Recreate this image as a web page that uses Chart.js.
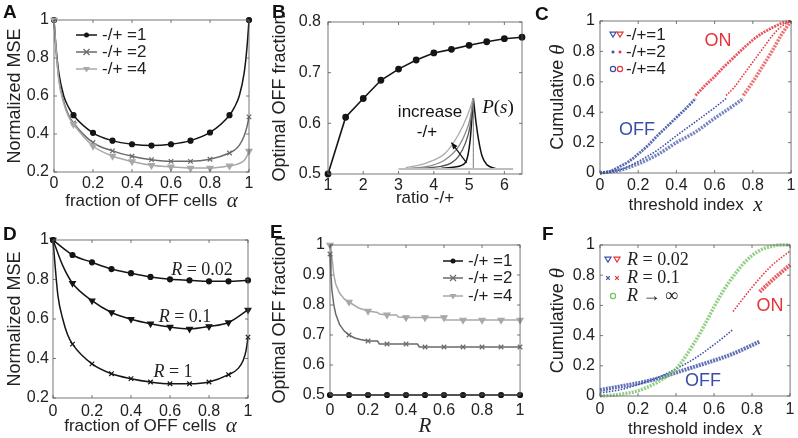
<!DOCTYPE html>
<html>
<head>
<meta charset="utf-8">
<script src="https://cdn.jsdelivr.net/npm/chart.js@4.4.1/dist/chart.umd.min.js"></script>
<style>
html, body { margin: 0; padding: 0; background: #fff; }
#fig { position: relative; width: 798px; height: 438px; overflow: hidden; }
#fig canvas { position: absolute; }
</style>
</head>
<body>
<div id="fig">
<canvas id="pA" width="265" height="219" style="left:0;top:0"></canvas>
<canvas id="pB" width="265" height="219" style="left:265px;top:0"></canvas>
<canvas id="pC" width="268" height="219" style="left:530px;top:0"></canvas>
<canvas id="pD" width="265" height="219" style="left:0;top:219px"></canvas>
<canvas id="pE" width="265" height="219" style="left:265px;top:219px"></canvas>
<canvas id="pF" width="268" height="219" style="left:530px;top:219px"></canvas>
</div>
<script>
// ---- A: normalized MSE vs fraction of OFF cells
const aX = [0, 0.01, 0.025, 0.05, 0.075, 0.1, 0.2, 0.3, 0.4, 0.5, 0.6, 0.7, 0.8, 0.9, 0.925, 0.95, 0.975, 0.99, 1];
const aRatio1 = [1, 0.86, 0.72, 0.6, 0.54, 0.499, 0.406, 0.365, 0.346, 0.339, 0.346, 0.365, 0.408, 0.499, 0.54, 0.6, 0.72, 0.86, 1];
const aRatio2 = [1, 0.85, 0.69, 0.57, 0.5, 0.458, 0.355, 0.311, 0.283, 0.265, 0.256, 0.256, 0.267, 0.3, 0.315, 0.34, 0.39, 0.44, 0.49];
const aRatio4 = [1, 0.85, 0.68, 0.56, 0.49, 0.451, 0.337, 0.284, 0.255, 0.235, 0.227, 0.221, 0.221, 0.232, 0.237, 0.245, 0.26, 0.285, 0.31];

// ---- B: optimal OFF fraction vs ratio, plus the P(s) inset
const bRatio = [1, 1.5, 2, 2.5, 3, 3.5, 4, 4.5, 5, 5.5, 6, 6.5];
const bOptimal = [0.5, 0.612, 0.649, 0.685, 0.707, 0.725, 0.739, 0.746, 0.754, 0.761, 0.767, 0.77];
const psBaseX = [3.0, 6.25];
const psBaseY = [0.51, 0.51];
const psPeakX = [5.12, 5.12];
const psPeakY = [0.51, 0.65];
const psLightX = [3.2, 3.8, 4.32, 4.7, 4.95, 5.12];
const psLightY = [0.512, 0.522, 0.541, 0.578, 0.615, 0.65];
const psMidX = [3.3, 3.9, 4.32, 4.7, 4.89, 5.03, 5.12];
const psMidY = [0.511, 0.516, 0.528, 0.554, 0.58, 0.61, 0.65];
const psDarkX = [3.4, 4.2, 4.5, 4.7, 4.89, 5.03, 5.12];
const psDarkY = [0.511, 0.515, 0.522, 0.535, 0.56, 0.595, 0.65];
const psBlackLX = [4.2, 4.6, 4.89, 5.03, 5.12];
const psBlackLY = [0.511, 0.514, 0.522, 0.567, 0.65];
const psBlackRX = [5.12, 5.2, 5.27, 5.37, 5.51, 5.75];
const psBlackRY = [0.65, 0.6, 0.567, 0.535, 0.518, 0.511];
const arrowFrom = [4.93, 0.522];
const arrowTo = [4.5, 0.562];

// ---- C: cumulative theta, OFF part then ON part
const c1OffX = [0, 0.05, 0.1, 0.15, 0.2, 0.25, 0.3, 0.35, 0.4, 0.45, 0.5];
const c1OffY = [0, 0.01, 0.04, 0.075, 0.125, 0.18, 0.245, 0.305, 0.365, 0.425, 0.49];
const c1OnX = [0.5, 0.55, 0.6, 0.65, 0.7, 0.75, 0.8, 0.85, 0.9, 0.95, 1];
const c1OnY = [0.51, 0.575, 0.635, 0.7, 0.76, 0.82, 0.875, 0.92, 0.955, 0.985, 1];
const c2OffX = [0, 0.1, 0.2, 0.3, 0.4, 0.5, 0.6, 0.66];
const c2OffY = [0, 0.02, 0.076, 0.15, 0.245, 0.337, 0.43, 0.49];
const c2OnX = [0.66, 0.7, 0.75, 0.8, 0.85, 0.9, 0.95, 1];
const c2OnY = [0.51, 0.56, 0.645, 0.73, 0.815, 0.9, 0.965, 1];
const c3OffX = [0, 0.1, 0.2, 0.3, 0.4, 0.5, 0.6, 0.7, 0.75];
const c3OffY = [0, 0.017, 0.06, 0.12, 0.2, 0.27, 0.36, 0.445, 0.49];
const c3OnX = [0.75, 0.8, 0.85, 0.9, 0.95, 1];
const c3OnY = [0.51, 0.6, 0.7, 0.8, 0.91, 1];

// ---- D: normalized MSE for several R
const dX = [0, 0.05, 0.1, 0.2, 0.3, 0.4, 0.5, 0.6, 0.7, 0.8, 0.9, 1];
const dR002 = [1, 0.96, 0.924, 0.887, 0.853, 0.832, 0.813, 0.801, 0.796, 0.791, 0.791, 0.796];
const dR01 = [1, 0.87, 0.781, 0.693, 0.633, 0.599, 0.576, 0.559, 0.55, 0.562, 0.582, 0.646];
const dR1X = [0, 0.01, 0.025, 0.05, 0.075, 0.1, 0.2, 0.3, 0.4, 0.5, 0.6, 0.7, 0.8, 0.9, 0.95, 0.975, 0.99, 1];
const dR1 = [1, 0.88, 0.72, 0.6, 0.52, 0.473, 0.373, 0.323, 0.298, 0.281, 0.272, 0.272, 0.281, 0.318, 0.35, 0.39, 0.44, 0.508];

// ---- E: optimal OFF fraction vs R
const eX1 = [0, 0.1, 0.2, 0.3, 0.4, 0.5, 0.6, 0.7, 0.8, 0.9, 1];
const eRatio1 = [0.5, 0.5, 0.5, 0.5, 0.5, 0.5, 0.5, 0.5, 0.5, 0.5, 0.5];
const eX2 = [0, 0.005, 0.01, 0.02, 0.03, 0.05, 0.075, 0.1, 0.13, 0.16, 0.2, 0.25, 0.26, 0.3, 0.4, 0.46, 0.47, 0.5, 0.6, 0.7, 0.8, 0.9, 1];
const eRatio2 = [0.97, 0.9, 0.85, 0.8, 0.77, 0.735, 0.713, 0.7, 0.69, 0.685, 0.68, 0.68, 0.67, 0.67, 0.67, 0.67, 0.66, 0.66, 0.66, 0.66, 0.66, 0.66, 0.66];
const eX4 = [0, 0.005, 0.01, 0.02, 0.03, 0.05, 0.075, 0.1, 0.15, 0.2, 0.25, 0.26, 0.3, 0.35, 0.36, 0.4, 0.5, 0.6, 0.61, 0.7, 0.8, 0.9, 1];
const eRatio4 = [1, 0.99, 0.96, 0.9, 0.87, 0.84, 0.82, 0.81, 0.79, 0.78, 0.775, 0.77, 0.767, 0.767, 0.76, 0.758, 0.758, 0.758, 0.75, 0.75, 0.75, 0.75, 0.75];

// ---- F: cumulative theta for several R
const f1OffX = [0, 0.1, 0.2, 0.3, 0.4, 0.5, 0.6, 0.7, 0.84];
const f1OffY = [0.04, 0.062, 0.085, 0.115, 0.155, 0.195, 0.235, 0.28, 0.36];
const f1OnX = [0.84, 0.9, 0.95, 1];
const f1OnY = [0.69, 0.76, 0.815, 0.868];
const f2OffX = [0, 0.1, 0.2, 0.3, 0.4, 0.5, 0.6, 0.7];
const f2OffY = [0.02, 0.04, 0.075, 0.12, 0.18, 0.25, 0.34, 0.44];
const f2OnX = [0.7, 0.8, 0.9, 1];
const f2OnY = [0.56, 0.72, 0.86, 0.96];
const f3X = [0, 0.1, 0.2, 0.3, 0.4, 0.5, 0.55, 0.6, 0.65, 0.7, 0.75, 0.8, 0.85, 0.9, 0.95, 1];
const f3Y = [0, 0.01, 0.035, 0.09, 0.18, 0.36, 0.47, 0.59, 0.7, 0.79, 0.87, 0.93, 0.97, 0.99, 1, 1];

const SANS = '"Liberation Sans", Arial, sans-serif';
const SERIF = '"Liberation Serif", "DejaVu Serif", serif';
const T17 = '17px ' + SANS;
const T18 = '18px ' + SANS;
const L17 = '17px ' + SANS;
const MATH = 'italic 21px ' + SERIF;
const BLACK = '#151515', DGRAY = '#6a6a6a', LGRAY = '#a8a8a8';
const BLUE = '#3a4ea6', RED = '#e3353b', GREEN = '#76c364';

const pts = (xs, ys) => xs.map((x, i) => ({x: x, y: ys[i]}));
const onTenth = x => Math.abs(x * 10 - Math.round(x * 10)) < 1e-6;
const fmt = v => String(Math.round(v * 100) / 100);

function series(xs, ys, color, style, r, extra) {
    return Object.assign({
        data: pts(xs, ys),
        borderColor: color,
        backgroundColor: color,
        borderWidth: 1.5,
        pointStyle: style,
        pointRotation: style === 'triangle' ? 180 : 0,
        pointRadius: ctx => (ctx.raw && onTenth(ctx.raw.x)) ? r : 0,
        pointBorderWidth: 1.2,
        cubicInterpolationMode: 'monotone',
        clip: false
    }, extra || {});
}

// dense marker chains of C and F drawn as textured dashed strokes
function chain(xs, ys, color, width, dash) {
    return {
        data: pts(xs, ys),
        borderColor: color,
        borderWidth: width,
        borderDash: dash,
        pointRadius: 0,
        cubicInterpolationMode: 'monotone',
        clip: false
    };
}

function plain(xs, ys, color, width) {
    return {
        data: pts(xs, ys), borderColor: color, borderWidth: width,
        pointRadius: 0, cubicInterpolationMode: 'monotone', clip: false
    };
}

// text made of several font runs, centred (or left anchored) at x,y
function rich(ctx, parts, x, y, rot, left) {
    ctx.save();
    ctx.translate(x, y);
    if (rot) ctx.rotate(rot);
    let w = 0;
    parts.forEach(p => { ctx.font = p[1]; w += ctx.measureText(p[0]).width; });
    let cx = left ? 0 : -w / 2;
    ctx.textBaseline = 'middle';
    ctx.textAlign = 'left';
    parts.forEach(p => {
        ctx.font = p[1];
        ctx.fillStyle = p[2] || '#222';
        ctx.fillText(p[0], cx, 0);
        cx += ctx.measureText(p[0]).width;
    });
    ctx.restore();
}

function letter(ctx, t, x, y) {
    rich(ctx, [[t, 'bold 19px ' + SANS, '#111']], x, y, 0, true);
}

function mark(ctx, style, x, y, r, color) {
    ctx.save();
    ctx.fillStyle = color;
    ctx.strokeStyle = color;
    ctx.lineWidth = 1.2;
    ctx.beginPath();
    if (style === 'circle') { ctx.arc(x, y, r, 0, 2 * Math.PI); ctx.fill(); }
    else if (style === 'ring') { ctx.arc(x, y, r, 0, 2 * Math.PI); ctx.stroke(); }
    else if (style === 'tri') { ctx.moveTo(x - r, y - r * 0.6); ctx.lineTo(x + r, y - r * 0.6); ctx.lineTo(x, y + r); ctx.closePath(); ctx.fill(); }
    else if (style === 'triO') { ctx.moveTo(x - r, y - r * 0.6); ctx.lineTo(x + r, y - r * 0.6); ctx.lineTo(x, y + r); ctx.closePath(); ctx.stroke(); }
    else if (style === 'dot') { ctx.fillRect(x - 1.3, y - 1.3, 2.6, 2.6); }
    else if (style === 'x') {
        ctx.moveTo(x - r, y - r); ctx.lineTo(x + r, y + r);
        ctx.moveTo(x + r, y - r); ctx.lineTo(x - r, y + r); ctx.stroke();
    }
    ctx.restore();
}

function legendLine(ctx, x0, x1, y, color, style, r, label) {
    ctx.save();
    ctx.strokeStyle = color;
    ctx.lineWidth = 1.5;
    ctx.beginPath(); ctx.moveTo(x0, y); ctx.lineTo(x1, y); ctx.stroke();
    ctx.restore();
    mark(ctx, style, (x0 + x1) / 2, y, r, color);
    rich(ctx, [[label, L17]], x1 + 5, y, 0, true);
}

const boxPlugin = {
    id: 'box',
    afterDatasetsDraw(chart) {
        const {ctx, chartArea: a, scales} = chart;
        ctx.save();
        ctx.strokeStyle = '#555';
        ctx.lineWidth = 0.8;
        ctx.strokeRect(a.left, a.top, a.right - a.left, a.bottom - a.top);
        ctx.beginPath();
        scales.x.ticks.forEach(t => {
            const px = scales.x.getPixelForValue(t.value);
            ctx.moveTo(px, a.bottom); ctx.lineTo(px, a.bottom - 3);
            ctx.moveTo(px, a.top); ctx.lineTo(px, a.top + 3);
        });
        scales.y.ticks.forEach(t => {
            const py = scales.y.getPixelForValue(t.value);
            ctx.moveTo(a.left, py); ctx.lineTo(a.left + 3, py);
            ctx.moveTo(a.right, py); ctx.lineTo(a.right - 3, py);
        });
        ctx.stroke();
        ctx.restore();
    }
};

function panel(id, cfg) {
    const cv = document.getElementById(id);
    const W = cv.width, H = cv.height, a = cfg.area;
    const tickFont = {family: SANS, size: 16};
    const axis = (r, pad, fit) => ({
        type: 'linear', min: r[0], max: r[1],
        afterFit: fit,
        grid: {display: false, drawTicks: false},
        border: {display: false},
        ticks: {stepSize: r[2], includeBounds: false, autoSkip: false, maxRotation: 0,
                padding: pad, color: '#222', font: tickFont, callback: fmt}
    });
    return new Chart(cv, {
        type: 'line',
        data: {datasets: cfg.datasets},
        options: {
            responsive: false,
            animation: false,
            events: [],
            layout: {padding: {left: 0, top: a.top, right: W - a.right, bottom: 0}},
            plugins: {legend: {display: false}, tooltip: {enabled: false}},
            scales: {
                x: axis(cfg.x, cfg.padX, s => { s.height = H - a.bottom; }),
                y: axis(cfg.y, cfg.padY, s => { s.width = a.left; })
            }
        },
        plugins: [boxPlugin, {id: 'deco', afterDraw: c => cfg.deco(c.ctx, c)}]
    });
}

const midX = c => (c.chartArea.left + c.chartArea.right) / 2;
const midY = c => (c.chartArea.top + c.chartArea.bottom) / 2;

panel('pA', {
    area: {left: 54, right: 249, top: 20, bottom: 172},
    x: [0, 1, 0.2], y: [0.2, 1, 0.2], padX: 1.5, padY: 5,
    datasets: [
        series(aX, aRatio4, LGRAY, 'triangle', 3.5),
        series(aX, aRatio2, DGRAY, 'crossRot', 3.2),
        series(aX, aRatio1, BLACK, 'circle', 2.5)
    ],
    deco: (ctx, c) => {
        letter(ctx, 'A', 3, 13);
        rich(ctx, [['fraction of OFF cells  ', T17], ['α', MATH]], midX(c), 201);
        rich(ctx, [['Normalized MSE', T18]], 15, midY(c), -Math.PI / 2);
        legendLine(ctx, 76, 97, 35, BLACK, 'circle', 2.5, '-/+ =1');
        legendLine(ctx, 76, 97, 52, DGRAY, 'x', 3, '-/+ =2');
        legendLine(ctx, 76, 97, 69, LGRAY, 'tri', 3.5, '-/+ =4');
    }
});

panel('pB', {
    area: {left: 63, right: 257, top: 22, bottom: 174},
    x: [1, 6.5, 1], y: [0.5, 0.8, 0.1], padX: 1.5, padY: 7,
    datasets: [
        plain(psBaseX, psBaseY, '#bdbdbd', 2),
        plain(psPeakX, psPeakY, '#777', 1),
        plain(psLightX, psLightY, '#aaa', 1.3),
        plain(psMidX, psMidY, '#8a8a8a', 1.3),
        plain(psDarkX, psDarkY, '#555', 1.3),
        plain(psBlackLX, psBlackLY, '#111', 1.5),
        plain(psBlackRX, psBlackRY, '#111', 1.5),
        {data: pts(bRatio, bOptimal), borderColor: BLACK, backgroundColor: BLACK, borderWidth: 1.6,
         pointRadius: 2.6, pointStyle: 'circle', tension: 0, clip: false}
    ],
    deco: (ctx, c) => {
        letter(ctx, 'B', 7, 13);
        rich(ctx, [['ratio -/+', T17]], midX(c), 198);
        rich(ctx, [['Optimal OFF fraction', T18]], 15, midY(c), -Math.PI / 2);
        const sx = c.scales.x, sy = c.scales.y;
        const x0 = sx.getPixelForValue(arrowFrom[0]), y0 = sy.getPixelForValue(arrowFrom[1]);
        const x1 = sx.getPixelForValue(arrowTo[0]), y1 = sy.getPixelForValue(arrowTo[1]);
        const ang = Math.atan2(y1 - y0, x1 - x0);
        ctx.save();
        ctx.strokeStyle = '#111'; ctx.fillStyle = '#111'; ctx.lineWidth = 1.3;
        ctx.beginPath(); ctx.moveTo(x0, y0); ctx.lineTo(x1, y1); ctx.stroke();
        ctx.beginPath();
        ctx.moveTo(x1, y1);
        ctx.lineTo(x1 - 7 * Math.cos(ang - 0.4), y1 - 7 * Math.sin(ang - 0.4));
        ctx.lineTo(x1 - 7 * Math.cos(ang + 0.4), y1 - 7 * Math.sin(ang + 0.4));
        ctx.closePath(); ctx.fill();
        ctx.restore();
        rich(ctx, [['increase', L17, '#111']], 165, 112);
        rich(ctx, [['-/+', L17, '#111']], 162, 132);
        rich(ctx, [['P', 'italic 19px ' + SERIF, '#111'], ['(', '19px ' + SERIF, '#111'],
                   ['s', 'italic 19px ' + SERIF, '#111'], [')', '19px ' + SERIF, '#111']], 233, 108);
    }
});

panel('pC', {
    area: {left: 70, right: 264, top: 21, bottom: 173},
    x: [0, 1, 0.2], y: [0, 1, 0.2], padX: 2.5, padY: 5,
    datasets: [
        chain(c3OffX, c3OffY, 'rgba(58,78,166,0.7)', 3.5, [2, 1.2]),
        chain(c3OnX, c3OnY, 'rgba(227,53,59,0.7)', 3.5, [2, 1.2]),
        chain(c2OffX, c2OffY, BLUE, 1.6, [1.5, 1.5]),
        chain(c2OnX, c2OnY, RED, 1.6, [1.5, 1.5]),
        chain(c1OffX, c1OffY, 'rgba(58,78,166,0.85)', 2.8, [2, 1]),
        chain(c1OnX, c1OnY, 'rgba(227,53,59,0.85)', 2.8, [2, 1])
    ],
    deco: (ctx, c) => {
        letter(ctx, 'C', 5, 15);
        rich(ctx, [['threshold index  ', T17], ['x', MATH]], midX(c), 205);
        rich(ctx, [['Cumulative ', T18], ['θ', MATH]], 28, midY(c), -Math.PI / 2);
        mark(ctx, 'triO', 83, 34, 3, BLUE); mark(ctx, 'triO', 90, 34, 3, RED);
        mark(ctx, 'dot', 83, 52, 2, BLUE); mark(ctx, 'dot', 90, 52, 2, RED);
        mark(ctx, 'ring', 83, 69, 2.6, BLUE); mark(ctx, 'ring', 90, 69, 2.6, RED);
        rich(ctx, [['-/+=1', L17]], 96, 35, 0, true);
        rich(ctx, [['-/+=2', L17]], 96, 52, 0, true);
        rich(ctx, [['-/+=4', L17]], 96, 69, 0, true);
        rich(ctx, [['ON', T18, RED]], 188, 41);
        rich(ctx, [['OFF', T18, BLUE]], 107, 130);
    }
});

panel('pD', {
    area: {left: 53, right: 248, top: 21, bottom: 179},
    x: [0, 1, 0.2], y: [0.2, 1, 0.2], padX: 3.5, padY: 4,
    datasets: [
        series(dX, dR002, BLACK, 'circle', 2.5),
        series(dX, dR01, BLACK, 'triangle', 3.3),
        series(dR1X, dR1, BLACK, 'crossRot', 3.2)
    ],
    deco: (ctx, c) => {
        letter(ctx, 'D', 3, 16);
        rich(ctx, [['fraction of OFF cells  ', T17], ['α', MATH]], midX(c), 207);
        rich(ctx, [['Normalized MSE', T18]], 15, midY(c), -Math.PI / 2);
        const up = '18px ' + SERIF, it = 'italic 18px ' + SERIF;
        rich(ctx, [['R', it], [' = 0.02', up]], 202, 51);
        rich(ctx, [['R', it], [' = 0.1', up]], 185, 98);
        rich(ctx, [['R', it], [' = 1', up]], 173, 153);
    }
});

panel('pE', {
    area: {left: 65, right: 257, top: 26, bottom: 176},
    x: [0, 1, 0.2], y: [0.5, 1, 0.1], padX: 5.5, padY: 5,
    datasets: [
        series(eX1, eRatio1, BLACK, 'circle', 2.5, {tension: 0, cubicInterpolationMode: 'default'}),
        series(eX2, eRatio2, DGRAY, 'crossRot', 3.2, {tension: 0, cubicInterpolationMode: 'default'}),
        series(eX4, eRatio4, LGRAY, 'triangle', 3.5, {tension: 0, cubicInterpolationMode: 'default'})
    ],
    deco: (ctx, c) => {
        letter(ctx, 'E', 5, 14);
        rich(ctx, [['R', MATH]], midX(c), 207);
        rich(ctx, [['Optimal OFF fraction', T18]], 15, midY(c), -Math.PI / 2);
        legendLine(ctx, 178, 198, 42, BLACK, 'circle', 2.5, '-/+ =1');
        legendLine(ctx, 178, 198, 59, DGRAY, 'x', 3, '-/+ =2');
        legendLine(ctx, 178, 198, 77, LGRAY, 'tri', 3.5, '-/+ =4');
    }
});

panel('pF', {
    area: {left: 70, right: 264, top: 26, bottom: 177},
    x: [0, 1, 0.2], y: [0, 1, 0.2], padX: 3.5, padY: 5,
    datasets: [
        chain(f3X, f3Y, 'rgba(118,195,100,0.8)', 3.5, [2, 1.2]),
        chain(f1OffX, f1OffY, 'rgba(58,78,166,0.8)', 4, [2, 1]),
        chain(f1OnX, f1OnY, 'rgba(227,53,59,0.8)', 4, [2, 1]),
        chain(f2OffX, f2OffY, BLUE, 1.6, [1.5, 1.5]),
        chain(f2OnX, f2OnY, RED, 1.6, [1.5, 1.5])
    ],
    deco: (ctx, c) => {
        letter(ctx, 'F', 12, 16);
        rich(ctx, [['threshold index  ', T17], ['x', MATH]], midX(c), 210);
        rich(ctx, [['Cumulative ', T18], ['θ', MATH]], 28, midY(c), -Math.PI / 2);
        mark(ctx, 'triO', 78, 40, 3, BLUE); mark(ctx, 'triO', 87, 40, 3, RED);
        mark(ctx, 'x', 78, 59, 1.8, BLUE); mark(ctx, 'x', 87, 59, 1.8, RED);
        mark(ctx, 'ring', 83, 77, 2.6, GREEN);
        const up = '18px ' + SERIF, it = 'italic 18px ' + SERIF;
        rich(ctx, [['R', it], [' = 0.02', up]], 97, 41, 0, true);
        rich(ctx, [['R', it], [' = 0.1', up]], 97, 59, 0, true);
        rich(ctx, [['R', it], [' → ∞', up]], 97, 77, 0, true);
        rich(ctx, [['ON', T18, RED]], 240, 87);
        rich(ctx, [['OFF', T18, BLUE]], 173, 162);
    }
});
</script>
</body>
</html>
